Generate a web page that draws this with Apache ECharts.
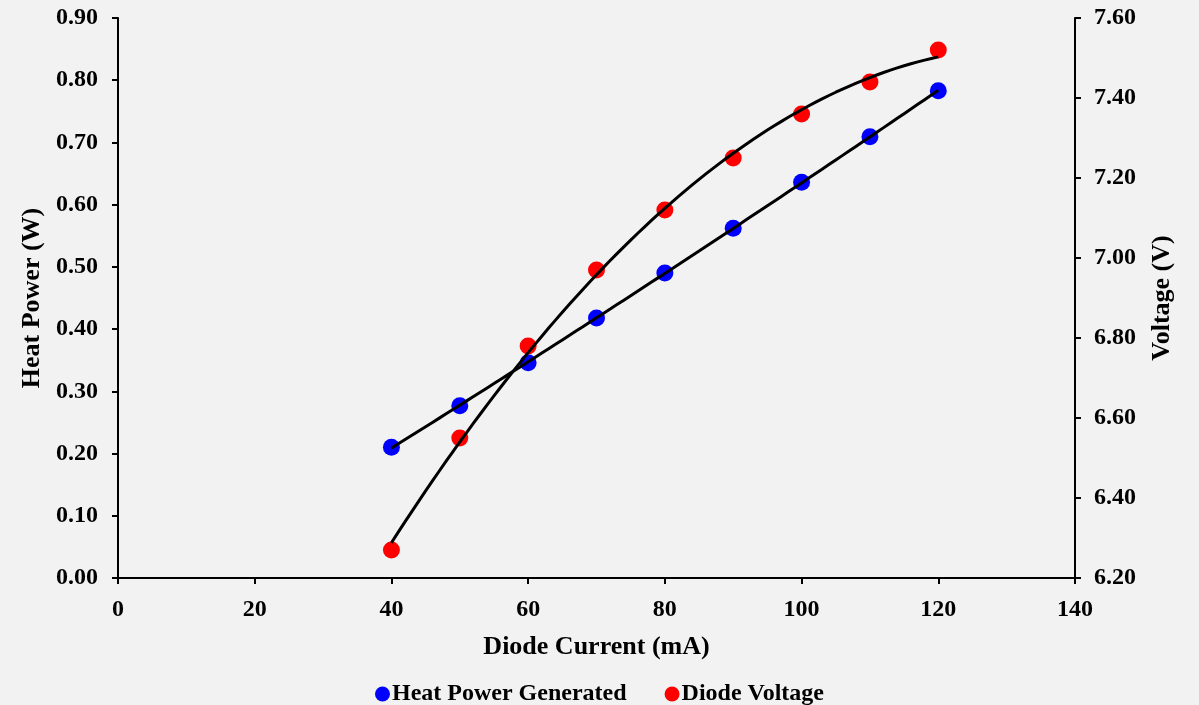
<!DOCTYPE html>
<html>
<head>
<meta charset="utf-8">
<script src="https://cdn.jsdelivr.net/npm/echarts@6/dist/echarts.min.js"></script>
<style>
  html, body { margin: 0; padding: 0; background: #f2f2f2; }
  #main { width: 1199px; height: 705px; }
</style>
</head>
<body>
<div id="main"></div>
<script>
// diode current (mA)
const current = [40, 50, 60, 70, 80, 90, 100, 110, 120];
// heat power generated (W), left axis
const heatPower = [0.210, 0.277, 0.346, 0.418, 0.490, 0.562, 0.636, 0.709, 0.783];
// diode voltage (V), right axis
const diodeVoltage = [6.27, 6.55, 6.78, 6.97, 7.12, 7.25, 7.36, 7.44, 7.52];

// 2nd order least squares fit, like a spreadsheet trendline
function polyFit2(xs, ys) {
    let n = xs.length, sx = 0, sx2 = 0, sx3 = 0, sx4 = 0, sy = 0, sxy = 0, sx2y = 0;
    for (let i = 0; i < n; i++) {
        let x = xs[i], y = ys[i];
        sx += x; sx2 += x * x; sx3 += x * x * x; sx4 += x * x * x * x;
        sy += y; sxy += x * y; sx2y += x * x * y;
    }
    // solve 3x3 system with Cramer's rule
    let m = [[n, sx, sx2], [sx, sx2, sx3], [sx2, sx3, sx4]];
    let r = [sy, sxy, sx2y];
    let det = (a) => a[0][0] * (a[1][1] * a[2][2] - a[1][2] * a[2][1])
        - a[0][1] * (a[1][0] * a[2][2] - a[1][2] * a[2][0])
        + a[0][2] * (a[1][0] * a[2][1] - a[1][1] * a[2][0]);
    let d = det(m);
    let coef = [];
    for (let c = 0; c < 3; c++) {
        let mc = m.map((row, i) => row.map((v, j) => (j === c ? r[i] : v)));
        coef.push(det(mc) / d);
    }
    return (x) => coef[0] + coef[1] * x + coef[2] * x * x;
}

function trend(xs, ys) {
    let f = polyFit2(xs, ys);
    let out = [];
    for (let x = xs[0]; x <= xs[xs.length - 1]; x += 1) out.push([x, f(x)]);
    return out;
}

let font = 'Liberation Serif, Times New Roman, serif';
let chart = echarts.init(document.getElementById('main'));

let option = {
    backgroundColor: '#f2f2f2',
    animation: false,
    textStyle: { fontFamily: font, fontWeight: 'bold', color: '#000' },
    grid: { left: 118, right: 124, top: 18, bottom: 127 },
    legend: {
        data: ['Heat Power Generated', 'Diode Voltage'],
        top: 677,
        left: 'center',
        icon: 'circle',
        itemWidth: 15,
        itemHeight: 15,
        itemGap: 38,
        textStyle: { fontFamily: font, fontWeight: 'bold', fontSize: 24, color: '#000', padding: [0, 0, 0, -3] }
    },
    xAxis: {
        type: 'value',
        min: 0, max: 140, interval: 20,
        name: 'Diode Current (mA)',
        nameLocation: 'middle',
        nameGap: 56,
        nameTextStyle: { fontFamily: font, fontWeight: 'bold', fontSize: 26, color: '#000' },
        axisLine: { lineStyle: { color: '#000', width: 2 } },
        axisTick: { show: true, inside: false, length: 6, lineStyle: { color: '#000', width: 2 } },
        axisLabel: { margin: 20, fontFamily: font, fontWeight: 'bold', fontSize: 24, color: '#000' },
        splitLine: { show: false }
    },
    yAxis: [
        {
            type: 'value',
            min: 0, max: 0.9, interval: 0.1,
            name: 'Heat Power (W)',
            nameLocation: 'middle',
            nameGap: 66,
            nameTextStyle: { fontFamily: font, fontWeight: 'bold', fontSize: 26, color: '#000' },
            axisLine: { show: true, lineStyle: { color: '#000', width: 2 } },
            axisTick: { show: true, inside: false, length: 6, lineStyle: { color: '#000', width: 2 } },
            axisLabel: { margin: 20, formatter: (v) => v.toFixed(2), fontFamily: font, fontWeight: 'bold', fontSize: 24, color: '#000' },
            splitLine: { show: false }
        },
        {
            type: 'value',
            min: 6.2, max: 7.6, interval: 0.2,
            position: 'right',
            name: 'Voltage (V)',
            nameLocation: 'middle',
            nameGap: 74,
            nameTextStyle: { fontFamily: font, fontWeight: 'bold', fontSize: 26, color: '#000' },
            axisLine: { show: true, lineStyle: { color: '#000', width: 2 } },
            axisTick: { show: true, inside: false, length: 6, lineStyle: { color: '#000', width: 2 } },
            axisLabel: { margin: 19, formatter: (v) => v.toFixed(2), fontFamily: font, fontWeight: 'bold', fontSize: 24, color: '#000' },
            splitLine: { show: false }
        }
    ],
    series: [
        {
            name: 'Heat Power Generated',
            type: 'scatter',
            yAxisIndex: 0,
            symbolSize: 17,
            itemStyle: { color: '#0000ff', opacity: 1 },
            data: current.map((x, i) => [x, heatPower[i]]),
            z: 2
        },
        {
            name: 'Diode Voltage',
            type: 'scatter',
            yAxisIndex: 1,
            symbolSize: 17,
            itemStyle: { color: '#ff0000', opacity: 1 },
            data: current.map((x, i) => [x, diodeVoltage[i]]),
            z: 2
        },
        {
            name: 'Heat Power trend',
            type: 'line',
            yAxisIndex: 0,
            showSymbol: false,
            lineStyle: { color: '#000', width: 3 },
            data: trend(current, heatPower),
            z: 3
        },
        {
            name: 'Voltage trend',
            type: 'line',
            yAxisIndex: 1,
            showSymbol: false,
            lineStyle: { color: '#000', width: 3 },
            data: trend(current, diodeVoltage),
            z: 3
        }
    ]
};
chart.setOption(option);
</script>
</body>
</html>
